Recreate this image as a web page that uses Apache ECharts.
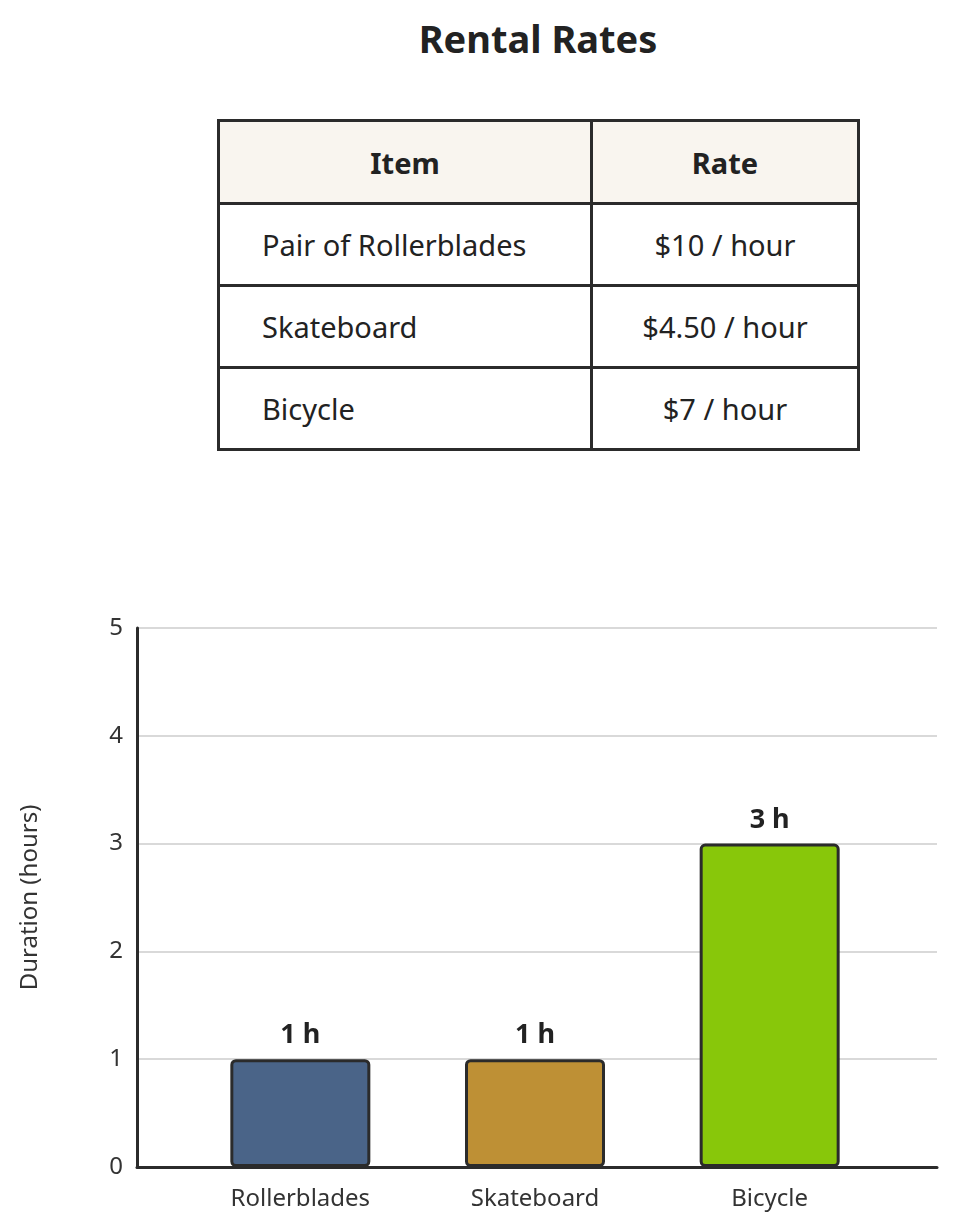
<!DOCTYPE html>
<html><head><meta charset="utf-8">
<script src="https://cdn.jsdelivr.net/npm/echarts@6/dist/echarts.min.js"></script>
<style>
body{margin:0;width:955px;height:1232px;background:#fff;font-family:"Noto Sans","Open Sans",sans-serif;color:#222;position:relative}
#title{position:absolute;left:0;width:1076px;top:12px;text-align:center;font-size:38px;font-weight:bold}
table{position:absolute;left:217px;top:119px;border-collapse:collapse;font-size:29px}
td,th{border:3px solid #2b2b2b;height:79px;padding:0}
th{background:#f9f5ef;height:80px}
td.a{width:328px;padding-left:42px;text-align:left}
td.b,th.b{width:264px;text-align:center}
#chart{position:absolute;left:0;top:560px;width:955px;height:672px}
</style></head><body>
<div id="title">Rental Rates</div>
<table id="tbl"></table>
<div id="chart"></div>
<script>
const tableItems = ["Pair of Rollerblades", "Skateboard", "Bicycle"];
const tableRates = ["$10 / hour", "$4.50 / hour", "$7 / hour"];
const categories = ["Rollerblades", "Skateboard", "Bicycle"];
const hours = [1, 1, 3];
const colors = ["#4a6488", "#be9035", "#88c70a"];

let html = '<tr><th style="width:370px">Item</th><th class="b">Rate</th></tr>';
tableItems.forEach((t, i) => {
    html += '<tr><td class="a">' + t + '</td><td class="b">' + tableRates[i] + '</td></tr>';
});
document.getElementById("tbl").innerHTML = html;

const font = "Noto Sans";
const chart = echarts.init(document.getElementById("chart"), null, { renderer: "canvas" });
chart.setOption({
    animation: false,
    grid: [
        { left: 137, right: 18, top: 68, bottom: 65 },
        { left: 183, right: 68, top: 68, bottom: 65 }
    ],
    xAxis: [{
        gridIndex: 0, type: "category", data: categories,
        axisLine: { lineStyle: { color: "#2b2b2b", width: 3 } },
        axisTick: { show: false }, axisLabel: { show: false }
    }, {
        gridIndex: 1, type: "category", data: categories,
        axisLine: { show: false }, axisTick: { show: false },
        axisLabel: { fontSize: 24, color: "#333", margin: 20, fontFamily: font }
    }],
    yAxis: [{
        gridIndex: 0, type: "value", min: 0, max: 5, interval: 1,
        name: "Duration (hours)", nameLocation: "middle", nameGap: 95,
        nameTextStyle: { fontSize: 24, color: "#333", fontFamily: font },
        axisLine: { show: true, lineStyle: { color: "#2b2b2b", width: 3 } },
        axisLabel: { fontSize: 24, color: "#333", margin: 14, fontFamily: font },
        splitLine: { lineStyle: { color: "#ccc", width: 1.5 } }
    }, {
        gridIndex: 1, type: "value", min: 0, max: 5, interval: 1, show: false
    }],
    series: [{
        type: "bar", xAxisIndex: 1, yAxisIndex: 1, barWidth: 140,
        data: hours.map((v, i) => ({ value: v, itemStyle: { color: colors[i] } })),
        itemStyle: { borderColor: "#2b2b2b", borderWidth: 3, borderRadius: 4 },
        label: {
            show: true, position: "top", distance: 10, formatter: "{c} h",
            fontSize: 27, fontWeight: "bold", color: "#222", fontFamily: font
        }
    }]
});
</script>
</body></html>
